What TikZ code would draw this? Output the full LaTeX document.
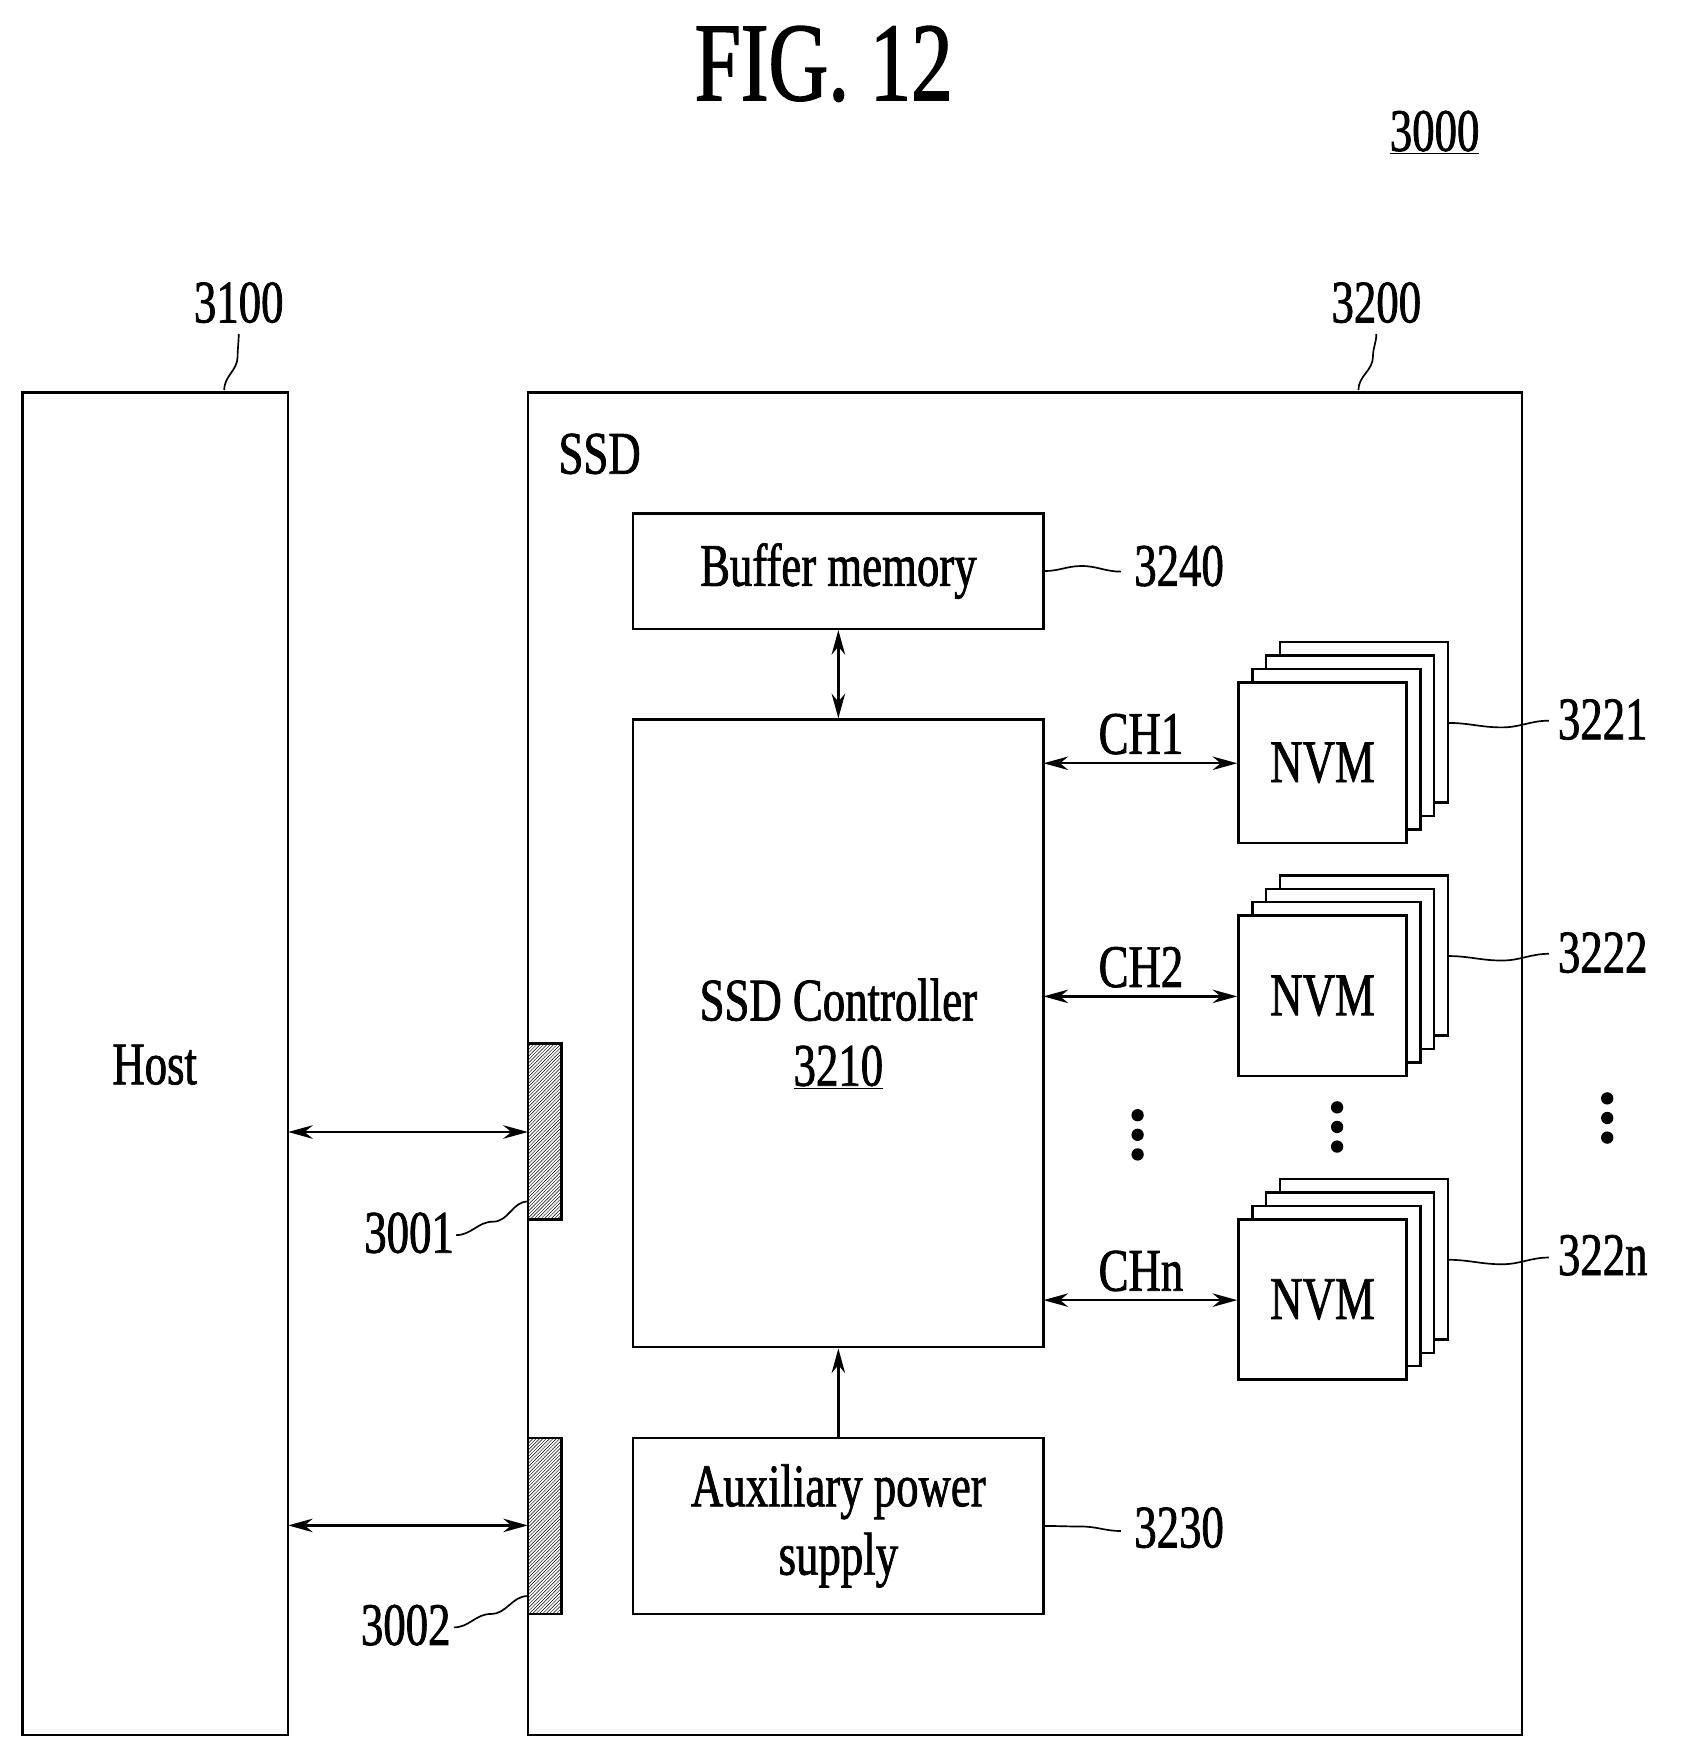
\documentclass[tikz,border=0pt]{standalone}
\usepackage{fontspec}
\setmainfont{Liberation Serif}[FakeStretch=0.74,FakeBold=1.2]
\usetikzlibrary{patterns,arrows.meta}
\begin{document}
\begin{tikzpicture}[x=1pt,y=-1pt,
 box/.style={draw,line width=2.2pt,fill=white},
 lbl/.style={font=\fontsize{54}{58}\selectfont,inner sep=0pt},
 arr/.style={line width=2.2pt,{Stealth[length=22pt,width=12pt]}-{Stealth[length=22pt,width=12pt]}},
 sarr/.style={line width=2.2pt,-{Stealth[length=22pt,width=12pt]}},
 lead/.style={line width=1.5pt},
 dot/.style={circle,fill,inner sep=0pt,minimum size=11pt}]
\useasboundingbox (0,0) rectangle (1500,1573);
\node[lbl,font=\fontsize{100}{100}\selectfont] (title) at (735,57) {FIG. 12};
\node[lbl] (n3000) at (1280,118) {\underline{3000}};
% host
\draw[box] (20,350) rectangle (257,1548);
\node[lbl] (host) at (138,950) {Host};
\coordinate (hostR1) at (257,1010); \coordinate (hostR2) at (257,1361);
\node[lbl] (l3100) at (213,270) {3100};
\draw[lead] (200,348) to[out=90,in=-90] (212,318) to[out=90,in=-90] (213,298);
% ssd
\draw[box] (471,350) rectangle (1358,1548);
\node[lbl] (ssd) at (535,405) {SSD};
\node[lbl] (l3200) at (1228,270) {3200};
\draw[lead] (1212,348) to[out=90,in=-90] (1225,318) to[out=90,in=-90] (1228,298);
% pads
\draw[line width=2pt,pattern=north east lines] (471,931) rectangle (501,1088);
\draw[line width=2pt,pattern=north east lines] (471,1283) rectangle (501,1440);
\coordinate (p1) at (471,1010); \coordinate (p2) at (471,1361);
\draw[arr] (hostR1) -- (p1);
\draw[arr] (hostR2) -- (p2);
\node[lbl] (l3001) at (365,1100) {3001};
\draw[lead] (407,1102) to[out=0,in=180] (440,1090) to[out=0,in=180] (471,1072);
\node[lbl] (l3002) at (362,1450) {3002};
\draw[lead] (405,1452) to[out=0,in=180] (438,1440) to[out=0,in=180] (471,1424);
% buffer
\node[box,minimum width=366pt,minimum height=103pt,lbl,draw] (buf) at (748,509.5) {Buffer memory};
\node[lbl] (l3240) at (1052,505) {3240};
\draw[lead] (buf.east) to[out=0,in=180] (965,505) to[out=0,in=180] (1000,510);
% controller
\node[box,minimum width=366pt,minimum height=560pt,inner sep=0pt] (ctl) at (748,922) {};
\node[lbl] (ctltxt) at (748,892) {SSD Controller};
\node[lbl] (ctlnum) at (748,952) {\underline{3210}};
\draw[arr] (buf.south) -- (ctl.north);
% aux
\node[box,minimum width=366pt,minimum height=157pt,inner sep=0pt] (aux) at (748,1361.5) {};
\node[lbl] (auxa) at (748,1331) {Auxiliary power};
\node[lbl] (auxb) at (748,1392) {supply};
\node[lbl] (l3230) at (1052,1363) {3230};
\draw[lead] (aux.east) to[out=0,in=180] (965,1362) to[out=0,in=180] (1000,1366);
\draw[sarr] (aux.north) -- (ctl.south);
% NVM stacks
\foreach \y/\ch/\lab/\ly in {609/CH1/3221/642, 817/CH2/3222/850, 1088/CHn/322n/1120}{
  \foreach \k in {3,2,1}{
    \draw[box] (1105+12.3*\k,\y-12*\k) rectangle (1255+12.3*\k,\y+143-12*\k);
  }
  \node[box,minimum width=150pt,minimum height=143pt,lbl,draw] (nvm\ch) at (1180,\y+71.5) {NVM};
  \coordinate (c\ch) at (931,\y+72);
  \draw[arr] (c\ch) -- (nvm\ch.west |- c\ch);
  \node[lbl] (t\ch) at (1018,\y+46) {\ch};
  \node[lbl] (l\lab) at (1430,\ly) {\lab};
  \draw[lead] (1292,\y+36) to[out=0,in=180] (1340,\y+40) to[out=0,in=180] (1382,\y+34);
}
% dots
\foreach \x/\y in {1015/995,1193/988,1434/980}{
  \foreach \d in {0,17.5,35}{\node[dot] at (\x,\y+\d) {};}
}
\end{tikzpicture}
\end{document}
